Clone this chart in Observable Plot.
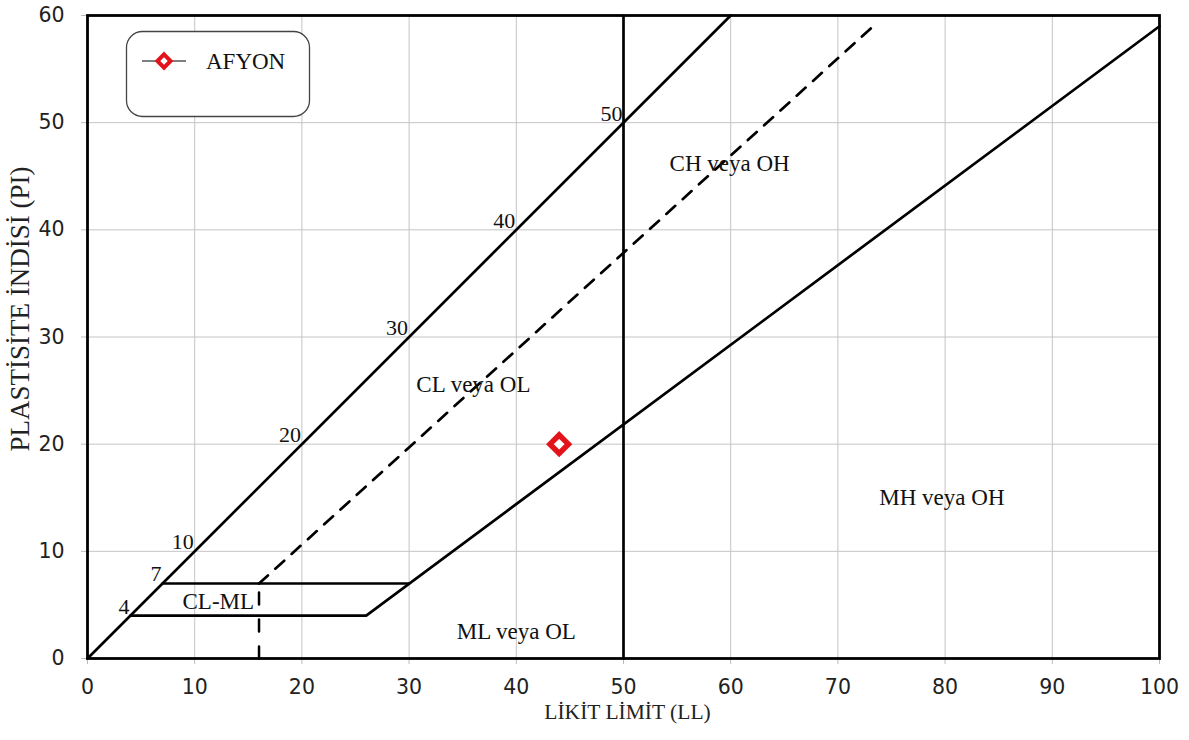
<!DOCTYPE html>
<html>
<head>
<meta charset="utf-8">
<script src="https://cdn.jsdelivr.net/npm/d3@7"></script>
<script src="https://cdn.jsdelivr.net/npm/@observablehq/plot@0.6"></script>
<style>
  body { margin: 0; background: #fff; }
  svg { display: block; }
</style>
</head>
<body>
<div id="chart"></div>
<script>
// ---- data ----
const xTicks = [0, 10, 20, 30, 40, 50, 60, 70, 80, 90, 100];
const yTicks = [0, 10, 20, 30, 40, 50, 60];

// boundary lines of the plasticity chart [LL, PI]
const lineEqual = [[0, 0], [60, 60]];          // PI = LL
const uLine = [[16, 7], [73.3, 59]];            // dashed U-line
const aLine = [[4, 4], [26, 4], [100, 59]];     // A-line with CL-ML lower bound
const line7 = [[7, 7], [30, 7]];                // PI = 7
const llLine = [[50, 0], [50, 60]];             // LL = 50
const vDash = [[16, 0], [16, 7]];               // LL = 16 dashed

// labels along PI = LL line
const edgeLabels = [4, 7, 10, 20, 30, 40, 50];

// region names [LL, PI, text]
const regionX = [12.2, 36.0, 59.9, 79.7, 40.0];
const regionY = [5.3, 25.6, 46.2, 15.0, 2.5];
const regionText = ["CL-ML", "CL veya OL", "CH veya OH", "MH veya OH", "ML veya OL"];

// sample
const sampleName = ["AFYON"];
const sampleLL = [44];
const samplePI = [20];

const regions = regionText.map((t, i) => ({x: regionX[i], y: regionY[i], t}));
const samples = sampleName.map((n, i) => ({n, x: sampleLL[i], y: samplePI[i]}));

const serif = "Liberation Serif, Times New Roman, serif";
const sans = "DejaVu Sans, Arial, sans-serif";
const red = "#e3131b";

const chart = Plot.plot({
  width: 1189,
  height: 740,
  marginLeft: 87,
  marginRight: 30,
  marginTop: 15,
  marginBottom: 82,
  style: {fontFamily: sans, fontSize: "20px", color: "#222", background: "#fff"},
  x: {domain: [0, 100], ticks: xTicks},
  y: {domain: [0, 60], ticks: yTicks},
  marks: [
    Plot.gridX(xTicks, {stroke: "#c4c4c4", strokeOpacity: 1, strokeWidth: 1}),
    Plot.gridY(yTicks, {stroke: "#c4c4c4", strokeOpacity: 1, strokeWidth: 1}),
    Plot.axisX(xTicks, {tickSize: 6, tickPadding: 15, stroke: "#bbb", fill: "#222", label: null, fontSize: 20.5, fontFamily: sans}),
    Plot.axisY(yTicks, {tickSize: 6, tickPadding: 17, stroke: "#bbb", fill: "#222", label: null, fontSize: 20.5, fontFamily: sans}),
    Plot.text(["LİKİT LİMİT (LL)"], {frameAnchor: "bottom", dy: 60, dx: 4, fontFamily: serif, fontSize: 21.5, fill: "#222"}),
    Plot.text(["PLASTİSİTE İNDİSİ (PI)"], {frameAnchor: "left", textAnchor: "middle", rotate: -90, dx: -67, dy: -28, fontFamily: serif, fontSize: 27, fill: "#222"}),
    Plot.line(lineEqual, {x: d => d[0], y: d => d[1], stroke: "#000", strokeWidth: 2.7}),
    Plot.line(aLine, {x: d => d[0], y: d => d[1], stroke: "#000", strokeWidth: 2.7, strokeLinejoin: "miter"}),
    Plot.line(line7, {x: d => d[0], y: d => d[1], stroke: "#000", strokeWidth: 2.7}),
    Plot.line(llLine, {x: d => d[0], y: d => d[1], stroke: "#000", strokeWidth: 2.7}),
    Plot.line(uLine, {x: d => d[0], y: d => d[1], stroke: "#000", strokeWidth: 2.7, strokeDasharray: "12,10"}),
    Plot.line(vDash, {x: d => d[0], y: d => d[1], stroke: "#000", strokeWidth: 2.5, strokeDasharray: "12,15"}),
    Plot.text(edgeLabels, {x: d => d, y: d => d, text: d => String(d), textAnchor: "end", lineAnchor: "bottom", dx: -1, dy: -2, fontFamily: serif, fontSize: 22, fill: "#111"}),
    Plot.text(regions, {x: "x", y: "y", text: "t", fontFamily: serif, fontSize: 23, fill: "#111"}),
    Plot.frame({stroke: "#000", strokeWidth: 2.8}),
    Plot.dot(samples, {x: "x", y: "y", symbol: "diamond2", r: 8.3, stroke: red, strokeWidth: 5.5, fill: "#fff"})
  ]
});

// legend box (layout only)
const svg = d3.select(chart);
const lg = svg.append("g");
lg.append("rect").attr("x", 126.5).attr("y", 31.5).attr("width", 183).attr("height", 85)
  .attr("rx", 16).attr("fill", "#fff").attr("stroke", "#444").attr("stroke-width", 1.3);
lg.append("line").attr("x1", 142).attr("x2", 186).attr("y1", 61).attr("y2", 61)
  .attr("stroke", "#555").attr("stroke-width", 1.3);
lg.append("path").attr("d", d3.symbol(d3.symbolDiamond2, 110)())
  .attr("transform", "translate(164,61)").attr("fill", "#fff").attr("stroke", red).attr("stroke-width", 4);
lg.append("text").attr("x", 206).attr("y", 69).attr("text-anchor", "start")
  .attr("font-family", serif).attr("font-size", 23).attr("fill", "#111").text(sampleName[0]);

document.getElementById("chart").appendChild(chart);
</script>
</body>
</html>
